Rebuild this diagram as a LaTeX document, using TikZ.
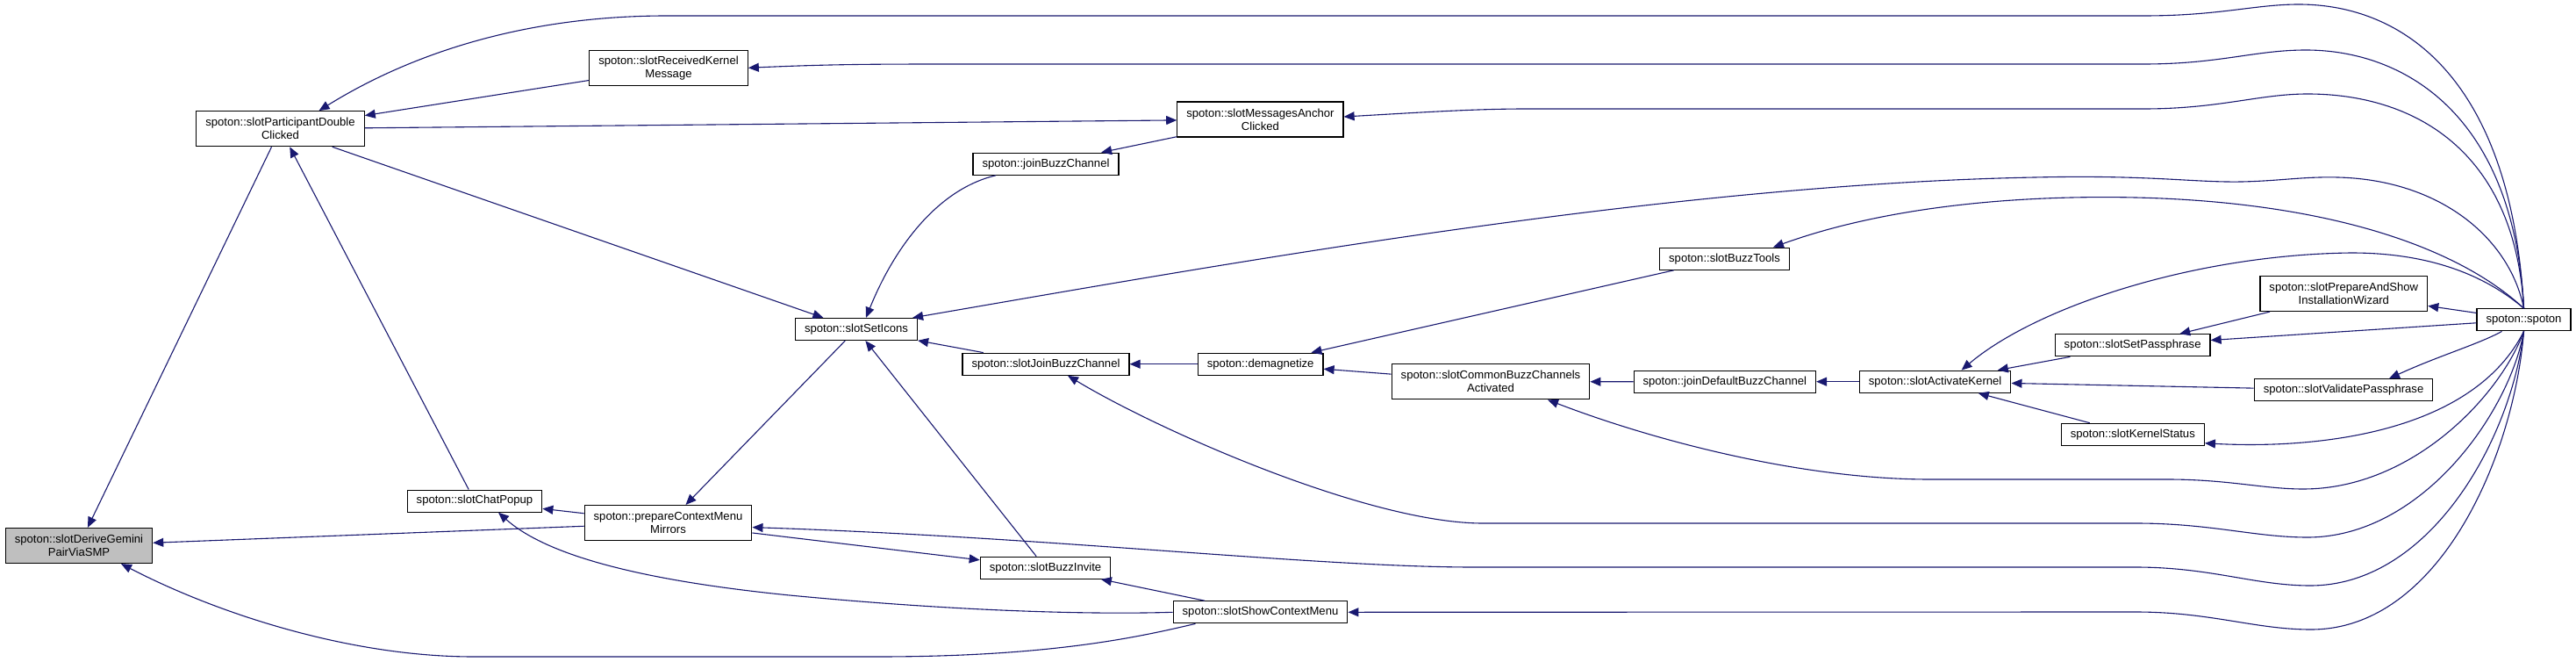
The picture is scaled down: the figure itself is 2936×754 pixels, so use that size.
\documentclass[tikz,border=0pt]{standalone}
\usepackage{fontspec}
\setmainfont{Liberation Sans}
\usetikzlibrary{arrows.meta}
\definecolor{callblue}{HTML}{191970}
\definecolor{mainfn}{HTML}{BFBFBF}

\begin{document}
\begin{tikzpicture}[x=1pt,y=-1pt,
  >={Triangle[length=12pt,width=10pt]},
  fn/.style={draw=black,line width=1.2pt,fill=white,inner xsep=10.5pt,inner ysep=1pt,
    minimum height=25pt,align=center,font=\fontsize{13.1}{15}\selectfont},
  fn2/.style={fn,minimum height=40pt},
  call/.style={callblue,line width=1.1pt,<-}]
  \fill[white] (0,0) rectangle (2936,754);
  \useasboundingbox (0,0) rectangle (2936,754);

  % functions, left to right
  \node[fn2,fill=mainfn] (derive) at (90,621.5) {spoton::slotDeriveGemini\\PairViaSMP};
  \node[fn2] (participant) at (319.5,146.7) {spoton::slotParticipantDouble\\Clicked};
  \node[fn2] (recvKernel) at (762,77.3) {spoton::slotReceivedKernel\\Message};
  \node[fn] (chatPopup) at (541,570.6) {spoton::slotChatPopup};
  \node[fn2] (ctxMenu) at (761.5,595.6) {spoton::prepareContextMenu\\Mirrors};
  \node[fn] (setIcons) at (976,375) {spoton::slotSetIcons};
  \node[fn] (joinBuzz) at (1192,186.7) {spoton::joinBuzzChannel};
  \node[fn2] (anchorClicked) at (1436.4,136) {spoton::slotMessagesAnchor\\Clicked};
  \node[fn] (slotJoinBuzz) at (1192,414.7) {spoton::slotJoinBuzzChannel};
  \node[fn] (buzzInvite) at (1191.5,646.7) {spoton::slotBuzzInvite};
  \node[fn] (demag) at (1436.7,414.7) {spoton::demagnetize};
  \node[fn] (showCtx) at (1436.5,697.3) {spoton::slotShowContextMenu};
  \node[fn] (buzzTools) at (1965.5,294.7) {spoton::slotBuzzTools};
  \node[fn2] (commonBuzz) at (1699,434.8) {spoton::slotCommonBuzzChannels\\Activated};
  \node[fn] (joinDefault) at (1965.8,434.7) {spoton::joinDefaultBuzzChannel};
  \node[fn] (activateKernel) at (2205.6,434.7) {spoton::slotActivateKernel};
  \node[fn] (setPass) at (2430.6,393.3) {spoton::slotSetPassphrase};
  \node[fn] (kernelStatus) at (2430.8,494.8) {spoton::slotKernelStatus};
  \node[fn2] (prepWizard) at (2671.3,334.5) {spoton::slotPrepareAndShow\\InstallationWizard};
  \node[fn] (validatePass) at (2671,444.2) {spoton::slotValidatePassphrase};
  \node[fn] (spoton) at (2876.5,364.3) {spoton::spoton};

  % straight calls
  \draw[call] (derive) -- (participant);
  \draw[call] (derive) -- (ctxMenu);
  \draw[call] (participant) -- (recvKernel);
  \draw[call] (participant) -- (chatPopup);
  \draw[call] (anchorClicked) -- (participant);
  \draw[call] (joinBuzz) -- (anchorClicked);
  \draw[call] (setIcons) -- (participant);
  \draw[call] (setIcons) -- (slotJoinBuzz);
  \draw[call] (setIcons) -- (buzzInvite);
  \draw[call] (ctxMenu) -- (setIcons);
  \draw[call] (chatPopup) -- (ctxMenu);
  \draw[call] (buzzInvite) -- (ctxMenu);
  \draw[call] (buzzInvite) -- (showCtx);
  \draw[call] (slotJoinBuzz) -- (demag);
  \draw[call] (demag) -- (buzzTools);
  \draw[call] (demag) -- (commonBuzz);
  \draw[call] (commonBuzz) -- (joinDefault);
  \draw[call] (joinDefault) -- (activateKernel);
  \draw[call] (activateKernel) -- (setPass);
  \draw[call] (activateKernel) -- (validatePass);
  \draw[call] (activateKernel) -- (kernelStatus);
  \draw[call] (setPass) -- (prepWizard);
  \draw[call] (setPass) -- (spoton);
  \draw[call] (prepWizard) -- (spoton);

  % bent calls
  \draw[call] ([xshift=11pt]setIcons.north) .. controls (1020,280) and (1070,215) .. ([xshift=-57pt]joinBuzz.south);
  \draw[call] ([xshift=48pt]derive.south) .. controls (250,700) and (400,748) .. (540,748) -- (1000,748)
    .. controls (1200,748) and (1300,725) .. ([xshift=-74pt]showCtx.south);
  \draw[call] ([xshift=27pt]chatPopup.south) .. controls (620,630) and (720,660) .. (900,678)
    .. controls (1100,697) and (1250,700) .. (showCtx.west);

  % calls from spoton::spoton, top side
  \draw[call] ([xshift=44pt]participant.north) .. controls (470,60) and (600,18) .. (760,18) -- (2443,18)
    .. controls (2530,18) and (2570,5) .. (2620,5) .. controls (2740,5) and (2862,90) .. (spoton.north);
  \draw[call] (recvKernel.east) .. controls (950,73) and (1000,73) .. (1100,73) -- (2443,73)
    .. controls (2530,73) and (2570,57) .. (2628,57) .. controls (2740,57) and (2865,130) .. (spoton.north);
  \draw[call] ([yshift=3pt]anchorClicked.east) .. controls (1620,128) and (1680,124) .. (1740,124) -- (2443,124)
    .. controls (2530,124) and (2575,107) .. (2630,107) .. controls (2750,107) and (2866,170) .. (spoton.north);
  \draw[call] ([xshift=-6pt]setIcons.north east) .. controls (1400,300) and (1900,210) .. (2319,202)
    .. controls (2450,199) and (2500,208) .. (2555,207) .. controls (2600,206) and (2625,201) .. (2665,202)
    .. controls (2780,205) and (2860,270) .. (spoton.north);
  \draw[call] ([xshift=-19pt]buzzTools.north east) .. controls (2150,235) and (2300,222) .. (2434,225)
    .. controls (2650,230) and (2800,280) .. (spoton.north);
  \draw[call] ([xshift=30pt]activateKernel.north) .. controls (2320,350) and (2500,290) .. (2680,288)
    .. controls (2780,288) and (2840,320) .. (spoton.north);

  % calls from spoton::spoton, bottom side
  \draw[call] ([xshift=52pt]validatePass.north) .. controls (2780,405) and (2825,392) .. ([xshift=-25pt]spoton.south);
  \draw[call] ([yshift=-10pt]kernelStatus.east) .. controls (2650,512) and (2820,490) .. (spoton.south);
  \draw[call] ([xshift=65pt]commonBuzz.south) .. controls (1880,500) and (2050,546) .. (2200,546) -- (2470,546)
    .. controls (2540,546) and (2580,557) .. (2625,557) .. controls (2750,557) and (2850,450) .. (spoton.south);
  \draw[call] ([xshift=25pt]slotJoinBuzz.south) .. controls (1320,490) and (1560,596) .. (1690,596) -- (2434,596)
    .. controls (2520,596) and (2570,612) .. (2630,612) .. controls (2760,612) and (2860,470) .. (spoton.south);
  \draw[call] ([yshift=-5pt]ctxMenu.east) .. controls (1200,612) and (1500,646) .. (1680,646) -- (2434,646)
    .. controls (2520,646) and (2570,667) .. (2633,667) .. controls (2770,667) and (2862,500) .. (spoton.south);
  \draw[call] (showCtx.east) -- (2434,697) .. controls (2520,697) and (2570,717) .. (2634,717)
    .. controls (2780,717) and (2865,520) .. (spoton.south);
\end{tikzpicture}
\end{document}
